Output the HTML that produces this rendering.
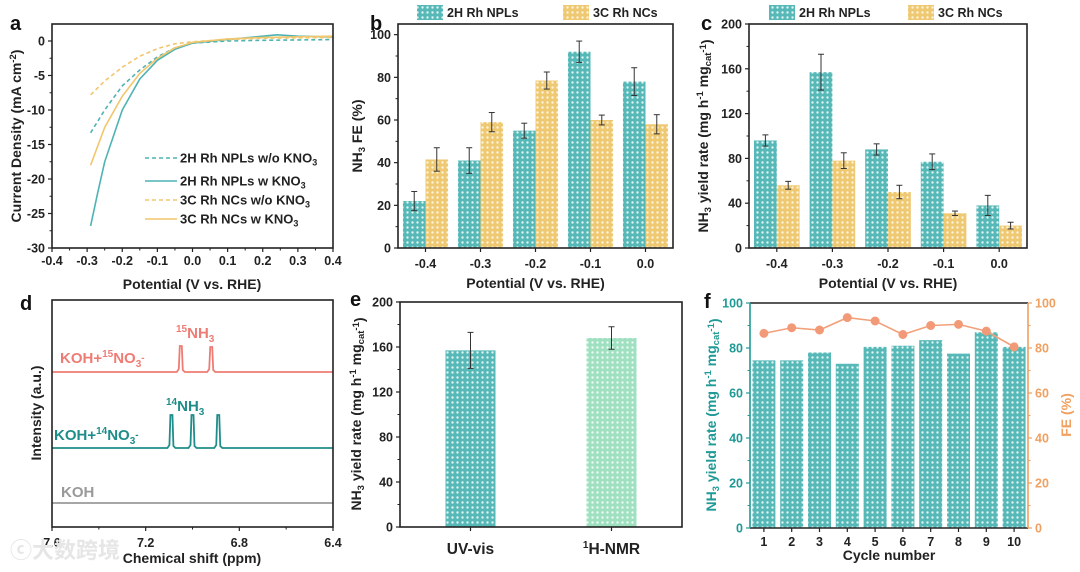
<!DOCTYPE html>
<html><head><meta charset="utf-8">
<style>
html,body{margin:0;padding:0;background:#fff;}
svg{display:block;font-family:"Liberation Sans","Noto Sans CJK SC",sans-serif;}
text{font-weight:bold;}
</style></head>
<body>
<svg id="fig" width="1080" height="572" viewBox="0 0 1080 572" xmlns="http://www.w3.org/2000/svg">
<defs>
<pattern id="pT" width="5" height="5" patternUnits="userSpaceOnUse"><rect width="5" height="5" fill="#57b8b8"/><circle cx="2.5" cy="2.5" r="1.2" fill="#dff3f3"/></pattern>
<pattern id="pY" width="5" height="5" patternUnits="userSpaceOnUse"><rect width="5" height="5" fill="#efc872"/><circle cx="2.5" cy="2.5" r="1.2" fill="#fcf3dc"/></pattern>
<pattern id="pG" width="5" height="5" patternUnits="userSpaceOnUse"><rect width="5" height="5" fill="#9fe0c0"/><circle cx="2.5" cy="2.5" r="1.2" fill="#ecfaf3"/></pattern>
</defs>
</svg>
<script>
// ---- Panel a data ----
const aX2Hwo=[-0.29,-0.25,-0.2,-0.15,-0.1,-0.05,0,0.1,0.2,0.4];
const aY2Hwo=[-13.3,-10,-6.5,-4.2,-2.3,-1,-0.3,0,0.1,0.2];
const aX2Hw=[-0.29,-0.27,-0.25,-0.2,-0.15,-0.1,-0.05,0,0.1,0.2,0.24,0.3,0.4];
const aY2Hw=[-26.8,-22,-17.5,-10,-5.5,-2.8,-1.2,-0.3,0.2,0.7,0.9,0.7,0.6];
const aX3Cwo=[-0.29,-0.25,-0.2,-0.15,-0.1,-0.05,0,0.1,0.2,0.4];
const aY3Cwo=[-7.8,-5.8,-3.8,-2.2,-1.1,-0.4,-0.1,0.2,0.4,0.5];
const aX3Cw=[-0.29,-0.25,-0.2,-0.15,-0.1,-0.05,0,0.1,0.2,0.4];
const aY3Cw=[-18,-12.5,-8,-4.7,-2.5,-1,-0.2,0.3,0.5,0.7];
const aXTicks=[-0.4,-0.3,-0.2,-0.1,0.0,0.1,0.2,0.3,0.4];
const aYTicks=[0,-5,-10,-15,-20,-25,-30];
// ---- Panel b/c data ----
const potentials=["-0.4","-0.3","-0.2","-0.1","0.0"];
const bFE2H=[22,41,55,92,78];
const bErr2H=[4.5,6,3.5,5,6.5];
const bFE3C=[41.5,59,78.5,60,58];
const bErr3C=[5.5,4.5,4,2.3,4.5];
const bYTicks=[0,20,40,60,80,100];
const cY2H=[96,157,88,77,38];
const cErr2H=[5,16,5,7,9];
const cY3C=[56,78,50,31,20];
const cErr3C=[3.5,7,6,2,3];
const cYTicks=[0,40,80,120,160,200];
// ---- Panel d data ----
const dXTicks=[7.6,7.2,6.8,6.4];
const dPeaks15=[7.05,6.92];
const dPeakH15=[26,25];
const dPeaks14=[7.09,7.0,6.89];
const dPeakH14=[33,33,33];
// ---- Panel e data ----
const eCats=["UV-vis","1H-NMR"];
const eVals=[157,168];
const eErrs=[16,10];
const eYTicks=[0,40,80,120,160,200];
// ---- Panel f data ----
const fCycles=[1,2,3,4,5,6,7,8,9,10];
const fYield=[74.5,74.5,78,73,80.5,81,83.5,77.5,87,80.5];
const fFE=[86.5,89,88,93.5,92,86,90,90.5,87.5,80.5];
const fYTicks=[0,20,40,60,80,100];

const TK=12.5, AT=14;
const svg=document.getElementById('fig');
const NS='http://www.w3.org/2000/svg';
function el(tag,attrs,parent){const e=document.createElementNS(NS,tag);for(const k in attrs)e.setAttribute(k,attrs[k]);(parent||svg).appendChild(e);return e;}
function txt(x,y,s,size,fill,anchor,parent){const t=el('text',{x:x,y:y,'font-size':size,fill:fill||'#222','text-anchor':anchor||'middle'},parent);t.textContent=s;return t;}
function lin(d0,d1,r0,r1){return v=>r0+(v-d0)*(r1-r0)/(d1-d0);}
function frame(g,L,T,R,B,color){el('rect',{x:L,y:T,width:R-L,height:B-T,fill:'none',stroke:color||'#222','stroke-width':1.6},g);}
function yAxisTicks(g,L,ys,ticks,color,right,minor){
  const c=color||'#222';
  ticks.forEach((v,i)=>{const y=ys(v);
    el('line',{x1:right?L:L-4,x2:right?L+4:L,y1:y,y2:y,stroke:c,'stroke-width':1.2},g);
    const t=txt(right?L+7:L-7,y+4.5,String(v),TK,c,right?'start':'end',g);
    
    
    if(minor&&i<ticks.length-1){const ym=ys((v+ticks[i+1])/2);el('line',{x1:right?L:L-2.5,x2:right?L+2.5:L,y1:ym,y2:ym,stroke:c,'stroke-width':1},g);}
  });
}
function ylabel(g,x,y,parts,color){
  const t=el('text',{x:0,y:0,'font-size':AT,fill:color||'#222','text-anchor':'middle',transform:`translate(${x},${y}) rotate(-90)`},g);
  parts.forEach(p=>{const s=el('tspan',p.sub?{'font-size':9.5,dy:3}:p.sup?{'font-size':9.5,dy:-5}:{dy:p.dy||0},t);s.textContent=p.t;});
  
  
  return t;
}
function pathFrom(xs,ys,fx,fy){return xs.map((x,i)=>(i?'L':'M')+fx(x).toFixed(1)+','+fy(ys[i]).toFixed(1)).join(' ');}
function errbar(g,x,y0,y1){el('line',{x1:x,x2:x,y1:y0,y2:y1,stroke:'#333','stroke-width':1},g);el('line',{x1:x-3,x2:x+3,y1:y0,y2:y0,stroke:'#333','stroke-width':1},g);el('line',{x1:x-3,x2:x+3,y1:y1,y2:y1,stroke:'#333','stroke-width':1},g);}

// ===== Panel a =====
(function(){
 const g=el('g',{});
 
 
 const L=52,R=333,T=24,B=248;
 const fx=lin(-0.4,0.4,L,R), fy=lin(0,-30,41,248);
 const series=[[aX2Hwo,aY2Hwo,'#4fb3b3','4,3','2h-without-kno3-line'],[aX2Hw,aY2Hw,'#4fb3b3','','2h-with-kno3-line'],[aX3Cwo,aY3Cwo,'#f2c66d','4,3','3c-without-kno3-line'],[aX3Cw,aY3Cw,'#f2c66d','','3c-with-kno3-line']];
 series.forEach(s=>{const p=el('path',{d:pathFrom(s[0],s[1],fx,fy),fill:'none',stroke:s[2],'stroke-width':1.6,'stroke-dasharray':s[3]},g);
   
   });
 frame(g,L,T,R,B);
 yAxisTicks(g,L,fy,aYTicks,'#222',false,true);
 aXTicks.forEach((v,i)=>{const x=fx(v);el('line',{x1:x,x2:x,y1:B,y2:B+4,stroke:'#222','stroke-width':1.2},g);
   const t=txt(x,B+17,v.toFixed(1),TK,'#222','middle',g);
   
   
   if(i<aXTicks.length-1){const xm=fx(v+0.05);el('line',{x1:xm,x2:xm,y1:B,y2:B+2.5,stroke:'#222'},g);}});
 const xt=txt(192,289,'Potential (V vs. RHE)',AT,'#222','middle',g);
 
 
 ylabel(g,21,136,[{t:'Current Density (mA cm'},{t:'-2',sup:true},{t:')',dy:5}]);
 const leg=[['#4fb3b3','4,3','2H Rh NPLs w/o KNO',158],['#4fb3b3','','2H Rh NPLs w KNO',181],['#f2c66d','4,3','3C Rh NCs w/o KNO',200],['#f2c66d','','3C Rh NCs w KNO',219]];
 leg.forEach(l=>{const e=el('g',{},g);
   
   
   el('line',{x1:145,x2:177,y1:l[3],y2:l[3],stroke:l[0],'stroke-width':1.6,'stroke-dasharray':l[1]},e);
   const t=txt(180,l[3]+4.5,l[2],13,'#222','start',e);const s=el('tspan',{'font-size':9,dy:3},t);s.textContent='3';});
 const pl=txt(10,30,'a',20,'#111','start',g);
 
 
})();

// ===== grouped bar panels b & c =====
function grouped(L,R,T,B,ymax,ticks,v1,e1,v2,e2,letter,lx,labelParts,labelX,legX1,legX2,name){
 const g=el('g',{});
 
 
 const fy=lin(0,ymax,B,T); const bw=(R-L)/potentials.length; const w=bw*0.41;
 potentials.forEach((p,i)=>{const cx=L+bw*(i+0.5);
   const r1=el('rect',{x:cx-w,y:fy(v1[i]),width:w,height:B-fy(v1[i]),fill:'url(#pT)'},g);
   
   
   const r2=el('rect',{x:cx,y:fy(v2[i]),width:w,height:B-fy(v2[i]),fill:'url(#pY)'},g);
   
   
   errbar(g,cx-w/2,fy(v1[i]+e1[i]),fy(v1[i]-e1[i]));
   errbar(g,cx+w/2,fy(v2[i]+e2[i]),fy(v2[i]-e2[i]));
   el('line',{x1:cx,x2:cx,y1:B,y2:B+4,stroke:'#222','stroke-width':1.2},g);
   const t=txt(cx,B+20,p,TK,'#222','middle',g);
   
   
 });
 frame(g,L,T,R,B);
 yAxisTicks(g,L,fy,ticks,'#222',false,true);
 const xt=txt((L+R)/2,B+40,'Potential (V vs. RHE)',AT,'#222','middle',g);
 
 
 ylabel(g,labelX,(T+B)/2,labelParts);
 const l1=el('g',{},g);
 
 
 el('rect',{x:legX1,y:5,width:26,height:15,fill:'url(#pT)'},l1);txt(legX1+30,17,'2H Rh NPLs',12.5,'#222','start',l1);
 const l2=el('g',{},g);
 
 
 el('rect',{x:legX2,y:5,width:26,height:15,fill:'url(#pY)'},l2);txt(legX2+30,17,'3C Rh NCs',12.5,'#222','start',l2);
 const pl=txt(lx,30,letter,20,'#111','start',g);
 
 
}
grouped(398,673,24,248,105,bYTicks,bFE2H,bErr2H,bFE3C,bErr3C,'b',370,[{t:'NH'},{t:'3',sub:true},{t:' FE (%)',dy:-3}],362,417,563,'panel-b-fe-chart');
grouped(749,1027,24,248,200,cYTicks,cY2H,cErr2H,cY3C,cErr3C,'c',701,[{t:'NH'},{t:'3',sub:true},{t:' yield rate (mg h',dy:-3},{t:'-1',sup:true},{t:' mg',dy:5},{t:'cat',sub:true},{t:'-1',sup:true},{t:')',dy:5}],708,769,908,'panel-c-yield-chart');

// ===== Panel d =====
(function(){
 const g=el('g',{});
 
 
 const L=52,R=333,T=300,B=527; const fx=lin(7.6,6.4,L,R);
 function spectrum(base,peaks,hs,color,name){
   let d='M'+L+','+base;
   peaks.forEach((p,i)=>{const x=fx(p);d+=' L'+(x-4)+','+base+' L'+(x-2)+','+(base-3)+' L'+(x-1)+','+(base-hs[i])+' L'+(x+1)+','+(base-hs[i])+' L'+(x+2)+','+(base-2)+' L'+(x+4)+','+base;});
   d+=' L'+R+','+base;
   const p=el('path',{d:d,fill:'none',stroke:color,'stroke-width':1.8},g);
   
   
 }
 spectrum(372,dPeaks15,dPeakH15,'#ef7c74','koh-15no3-spectrum');
 spectrum(448,dPeaks14,dPeakH14,'#1f8d89','koh-14no3-spectrum');
 spectrum(503,[],[],'#9a9a9a','koh-spectrum');
 frame(g,L,T,R,B);
 dXTicks.forEach((v,i)=>{const x=fx(v);el('line',{x1:x,x2:x,y1:B,y2:B+4,stroke:'#222','stroke-width':1.2},g);
   const t=txt(x,B+20,v.toFixed(1),TK,'#222','middle',g);
   
   
   if(i<dXTicks.length-1){const xm=fx(v-0.2);el('line',{x1:xm,x2:xm,y1:B,y2:B+2.5,stroke:'#222'},g);}});
 const xt=txt(192,563,'Chemical shift (ppm)',AT,'#222','middle',g);
 
 
 ylabel(g,41,413,[{t:'Intensity (a.u.)'}]);
 function lab(x,y,parts,color,size,name){const t=el('text',{x:x,y:y,'font-size':size,fill:color,'text-anchor':'start'},g);
   parts.forEach(p=>{const s=el('tspan',p.sup?{'font-size':10,dy:-6}:p.sub?{'font-size':10,dy:4}:{dy:p.dy||0},t);s.textContent=p.t;});
   
   }
 lab(60,363,[{t:'KOH+'},{t:'15',sup:true},{t:'NO',dy:6},{t:'3',sub:true},{t:'-',sup:true,dy:-10}],'#ef7c74',15,'koh-15no3-label');
 lab(176,338,[{t:'15',sup:true},{t:'NH',dy:6},{t:'3',sub:true}],'#ef7c74',15,'15nh3-peak-label');
 lab(54,440,[{t:'KOH+'},{t:'14',sup:true},{t:'NO',dy:6},{t:'3',sub:true},{t:'-',sup:true,dy:-10}],'#1f8d89',15,'koh-14no3-label');
 lab(166,411,[{t:'14',sup:true},{t:'NH',dy:6},{t:'3',sub:true}],'#1f8d89',15,'14nh3-peak-label');
 lab(61,497,[{t:'KOH'}],'#999',15,'koh-label');
 const pl=txt(20,310,'d',20,'#111','start',g);
 
 
 const wm=txt(10,558,'ⓒ大数跨境',22,'#e6e6e6','start',g);
 
 
})();

// ===== Panel e =====
(function(){
 const g=el('g',{});
 
 
 const L=400,R=682,T=302,B=527; const fy=lin(0,200,B,T);
 const centers=[0.25,0.75]; const fills=['url(#pT)','url(#pG)'];
 eCats.forEach((c,i)=>{const cx=L+(R-L)*centers[i]; const w=50;
   const r=el('rect',{x:cx-w/2,y:fy(eVals[i]),width:w,height:B-fy(eVals[i]),fill:fills[i]},g);
   
   
   errbar(g,cx,fy(eVals[i]+eErrs[i]),fy(eVals[i]-eErrs[i]));
   el('line',{x1:cx,x2:cx,y1:B,y2:B+4,stroke:'#222','stroke-width':1.2},g);
   const t=el('text',{x:cx,y:B+27,'font-size':15.5,fill:'#222','text-anchor':'middle'},g);
   if(c==='1H-NMR'){const s=el('tspan',{'font-size':10,dy:-6},t);s.textContent='1';const s2=el('tspan',{dy:6},t);s2.textContent='H-NMR';}else t.textContent=c;
   
   
 });
 frame(g,L,T,R,B);
 yAxisTicks(g,L,fy,eYTicks,'#222',false,true);
 ylabel(g,361,414,[{t:'NH'},{t:'3',sub:true},{t:' yield rate (mg h',dy:-3},{t:'-1',sup:true},{t:' mg',dy:5},{t:'cat',sub:true},{t:'-1',sup:true},{t:')',dy:5}]);
 const pl=txt(350,306,'e',20,'#111','start',g);
 
 
})();

// ===== Panel f =====
(function(){
 const g=el('g',{});
 
 
 const L=750,R=1028,T=303,B=528; const fy=lin(0,100,B,T);
 const teal='#1f9a96', orange='#f0a060';
 const bw=(R-L)/fCycles.length, w=23;
 fCycles.forEach((c,i)=>{const cx=L+bw*(i+0.5);
   const r=el('rect',{x:cx-w/2,y:fy(fYield[i]),width:w,height:B-fy(fYield[i]),fill:'url(#pT)'},g);
   
   
   el('line',{x1:cx,x2:cx,y1:B,y2:B+4,stroke:'#222','stroke-width':1.2},g);
   const t=txt(cx,B+18,String(c),12.5,'#222','middle',g);
   
   
 });
 const line=el('path',{d:fCycles.map((c,i)=>(i?'L':'M')+(L+bw*(i+0.5))+','+fy(fFE[i])).join(' '),fill:'none',stroke:'#f2a07a','stroke-width':1.6},g);
 
 
 fCycles.forEach((c,i)=>{const p=el('circle',{cx:L+bw*(i+0.5),cy:fy(fFE[i]),r:4.5,fill:'#f29a78'},g);
   
   });
 el('line',{x1:L,x2:R,y1:T,y2:T,stroke:'#222','stroke-width':1.6},g);
 el('line',{x1:L,x2:R,y1:B,y2:B,stroke:'#222','stroke-width':1.6},g);
 el('line',{x1:L,x2:L,y1:T,y2:B,stroke:teal,'stroke-width':1.6},g);
 el('line',{x1:R,x2:R,y1:T,y2:B,stroke:orange,'stroke-width':1.6},g);
 yAxisTicks(g,L,fy,fYTicks,teal,false,true);
 yAxisTicks(g,R,fy,fYTicks,orange,true,true);
 const xt=txt((L+R)/2,560,'Cycle number',AT,'#222','middle',g);
 
 
 ylabel(g,716,415,[{t:'NH'},{t:'3',sub:true},{t:' yield rate (mg h',dy:-3},{t:'-1',sup:true},{t:' mg',dy:5},{t:'cat',sub:true},{t:'-1',sup:true},{t:')',dy:5}],teal);
 ylabel(g,1071,415,[{t:'FE (%)'}],orange);
 const pl=txt(704,308,'f',20,'#111','start',g);
 
 
})();
</script>
</body></html>
